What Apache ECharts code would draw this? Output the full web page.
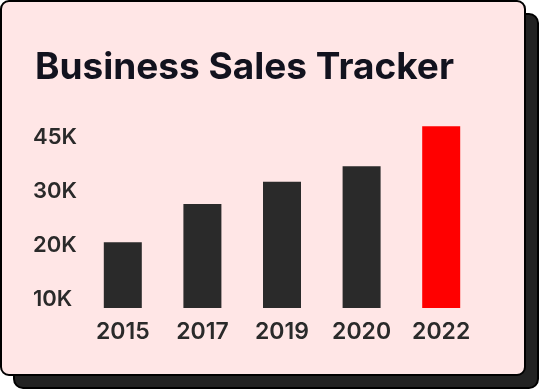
<!DOCTYPE html>
<html>
<head>
<meta charset="utf-8">
<script src="https://cdn.jsdelivr.net/npm/echarts@6/dist/echarts.min.js"></script>
<style>
  html, body { margin: 0; padding: 0; background: #ffffff; width: 540px; height: 390px; overflow: hidden; }
  #shadow { position: absolute; left: 13px; top: 13px; width: 522px; height: 372px; background: #222222; border: 2px solid #000; border-radius: 10px; }
  #card { position: absolute; left: 0; top: 0; width: 522px; height: 372px; background: #FFE6E6; border: 2px solid #000; border-radius: 9px; }
  #chart { position: absolute; left: 0; top: 0; width: 540px; height: 390px; }
</style>
</head>
<body>
<div id="shadow"></div>
<div id="card"></div>
<div id="chart"></div>
<script>
const titleText = "Business Sales Tracker";
const years = ["2015", "2017", "2019", "2020", "2022"];
const sales = [20500, 27600, 31700, 34600, 42000];
const highlightYear = "2022";
const tickValues = [10000, 20000, 30000, 40000];
const tickLabels = ["10K", "20K", "30K", "45K"];

const FONT = "Inter";
const chart = echarts.init(document.getElementById('chart'), null, { renderer: 'canvas' });
chart.setOption({
  backgroundColor: 'transparent',
  animation: false,
  title: {
    text: titleText,
    left: 30,
    top: 44,
    textStyle: { fontFamily: FONT, fontSize: 37, fontWeight: 'bold', color: '#12121E' }
  },
  grid: { left: 83, right: 59, top: 110, bottom: 82 },
  xAxis: {
    type: 'category',
    data: years,
    axisLine: { show: false },
    axisTick: { show: false },
    axisLabel: { margin: 13, fontFamily: FONT, fontSize: 23, fontWeight: 600, color: '#2A2A2A' }
  },
  yAxis: {
    type: 'value',
    min: 8330,
    max: 45000,
    splitLine: { show: false },
    axisLine: { show: false },
    axisTick: { show: false },
    axisLabel: {
      customValues: tickValues,
      align: 'left',
      margin: 50,
      fontFamily: FONT, fontSize: 22, fontWeight: 600, color: '#2A2A2A',
      formatter: function (v) {
        const i = tickValues.indexOf(v);
        return i >= 0 ? tickLabels[i] : '';
      }
    }
  },
  series: [{
    type: 'bar',
    barWidth: 38,
    data: sales.map((v, i) => ({
      value: v,
      itemStyle: { color: years[i] === highlightYear ? '#FF0000' : '#2A2A2A' }
    }))
  }]
});
</script>
</body>
</html>
